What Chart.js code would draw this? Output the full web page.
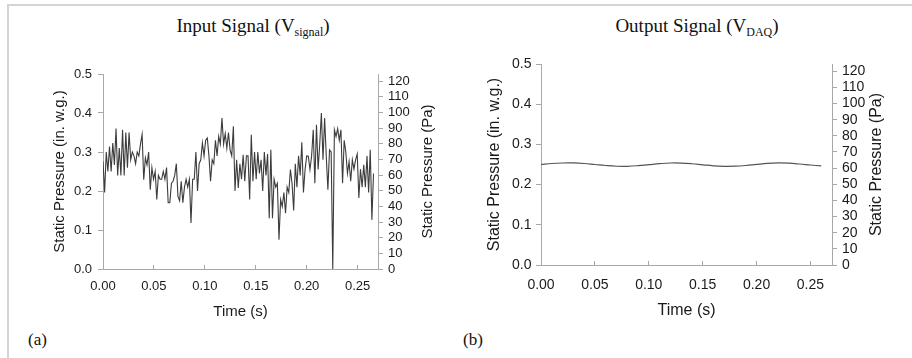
<!DOCTYPE html>
<html>
<head>
<meta charset="utf-8">
<script src="https://cdn.jsdelivr.net/npm/chart.js@4/dist/chart.umd.min.js"></script>
<style>
  html, body { margin: 0; padding: 0; background: #fff; }
  body { width: 912px; height: 358px; position: relative; overflow: hidden; }
  #frame { position: absolute; left: 7px; top: 4px; width: 920px; height: 370px;
           border-top: 2px solid #d4d4d4; border-left: 2px solid #d4d4d4; }
  .title { position: absolute; top: 16px; font-family: "Liberation Serif", serif; font-size: 19px;
           line-height: 19px; color: #111; transform: translateX(-50%); white-space: nowrap; }
  .title sub { font-size: 12px; vertical-align: -4px; line-height: 0; }
  .panel { position: absolute; top: 330px; font-family: "Liberation Serif", serif; font-size: 17px; color: #111; }
  canvas { position: absolute; }
</style>
</head>
<body>
<div id="frame"></div>
<div class="title" style="left:253px">Input Signal (V<sub>signal</sub>)</div>
<div class="title" style="left:697px">Output Signal (V<sub>DAQ</sub>)</div>
<div class="panel" style="left:28px">(a)</div>
<div class="panel" style="left:463px">(b)</div>
<canvas id="chartA" width="397" height="280" style="left:48px;top:50px"></canvas>
<canvas id="chartB" width="417" height="290" style="left:483px;top:40px"></canvas>
<script>
// static pressure in in. w.g.
var inputStep = 0.0016;
var inputPressure = [
  0.276,0.196,0.30,0.25,0.314,0.25,0.323,0.267,0.36,0.24,0.31,0.24,0.357,0.24,0.35,0.26,0.35,0.28,0.30,0.29,
  0.27,0.30,0.29,0.32,0.345,0.229,0.285,0.267,0.30,0.203,0.26,0.23,0.25,0.178,0.24,0.23,0.23,0.25,0.23,0.26,0.17,
  0.17,0.22,0.225,0.24,0.27,0.186,0.175,0.225,0.17,0.21,0.23,0.21,0.23,0.118,0.23,0.23,0.30,0.20,0.27,0.28,
  0.323,0.29,0.33,0.336,0.29,0.225,0.28,0.27,0.33,0.29,0.34,0.32,0.387,0.32,0.347,0.31,0.35,0.305,0.29,0.366,0.20,0.28,
  0.208,0.27,0.23,0.293,0.225,0.29,0.29,0.178,0.344,0.225,0.30,0.23,0.30,0.245,0.28,0.20,0.30,0.24,0.295,0.13,
  0.306,0.13,0.23,0.21,0.22,0.075,0.178,0.16,0.196,0.143,0.21,0.196,0.255,0.22,0.15,0.27,0.21,0.29,0.24,0.325,0.196,0.255,0.29,
  0.289,0.255,0.289,0.357,0.22,0.37,0.255,0.32,0.40,0.28,0.387,0.29,0.203,0.305,0.30,0.0,0.357,0.34,0.36,0.33,
  0.357,0.22,0.33,0.30,0.245,0.275,0.225,0.28,0.256,0.28,0.295,0.182,0.256,0.21,0.267,0.21,0.29,0.196,0.306,0.126,0.245
];

var outputStep = 0.01;
var outputPressure = [
  0.2500,0.2525,0.2537,0.2538,0.2525,0.2500,0.2475,0.2457,0.2455,0.2470,0.2495,0.2520,0.2537,0.2535,
  0.2518,0.2492,0.2467,0.2455,0.2458,0.2475,0.2502,0.2527,0.2538,0.2532,0.2512,0.2487,0.2465
];

var timeMax = 0.27;
var inwgMax = 0.5;
var paMax = 124.5;   // 0.5 in. w.g. in Pa

var axisColor = '#a8a8a8';
var textColor = '#1a1a1a';

var rightTitle = {
  id: 'rightTitle',
  afterDraw: function (chart, args, opts) {
    var ctx = chart.ctx, area = chart.chartArea;
    ctx.save();
    ctx.translate(area.right + opts.offset, (area.top + area.bottom) / 2);
    ctx.rotate(-Math.PI / 2);
    ctx.font = opts.size + 'px "Liberation Sans", Arial, sans-serif';
    ctx.fillStyle = textColor;
    ctx.textAlign = 'center';
    ctx.textBaseline = 'middle';
    ctx.fillText(opts.text, 0, 0);
    ctx.restore();
  }
};

function toPoints(values, step) {
  return values.map(function (v, i) { return { x: i * step, y: v }; });
}

function makeChart(id, points, lineColor, s) {
  var tickFont = { family: '"Liberation Sans", Arial, sans-serif', size: s.tick };
  var titleFont = { family: '"Liberation Sans", Arial, sans-serif', size: s.title };
  return new Chart(document.getElementById(id), {
    type: 'line',
    data: {
      datasets: [{
        data: points,
        borderColor: lineColor,
        borderWidth: s.lineWidth,
        pointRadius: 0,
        tension: s.tension,
        fill: false
      }]
    },
    options: {
      responsive: false,
      animation: false,
      events: [],
      layout: { padding: { top: s.padTop, left: 0, right: 0, bottom: 0 } },
      plugins: {
        legend: { display: false },
        tooltip: { enabled: false },
        rightTitle: { text: 'Static Pressure (Pa)', offset: s.rightTitleOffset, size: s.title }
      },
      scales: {
        x: {
          type: 'linear',
          min: 0,
          max: timeMax,
          afterFit: function (scale) { scale.height = s.xHeight; },
          border: { color: axisColor },
          grid: { drawOnChartArea: false, tickLength: -4, color: axisColor },
          ticks: {
            stepSize: 0.05, includeBounds: false, maxRotation: 0, autoSkip: false,
            padding: s.xPad, font: tickFont, color: textColor,
            callback: function (v) { return v.toFixed(2); }
          },
          title: { display: true, text: 'Time (s)', font: titleFont, color: textColor,
                   padding: { top: 0, bottom: s.xTitlePad } }
        },
        y: {
          position: 'left',
          min: 0,
          max: inwgMax,
          afterFit: function (scale) { scale.width = s.yWidth; },
          border: { color: axisColor },
          grid: { drawOnChartArea: false, tickLength: 5, color: axisColor },
          ticks: {
            stepSize: 0.1, autoSkip: false, padding: s.yPad, font: tickFont, color: textColor,
            callback: function (v) { return v.toFixed(1); }
          },
          title: { display: true, text: 'Static Pressure (in. w.g.)', font: titleFont, color: textColor,
                   padding: { top: s.yTitlePad, bottom: 0 } }
        },
        y1: {
          position: 'right',
          display: true,
          min: 0,
          max: paMax,
          afterFit: function (scale) { scale.width = s.y1Width; },
          border: { color: axisColor },
          grid: { drawOnChartArea: false, tickLength: 5, color: axisColor },
          ticks: {
            stepSize: 10, includeBounds: false, autoSkip: false, padding: 5, font: tickFont, color: textColor,
            callback: function (v) { return Math.round(v); }
          }
        }
      }
    },
    plugins: [rightTitle]
  });
}

makeChart('chartA', toPoints(inputPressure, inputStep), '#3c3c3c', {
  tick: 13, title: 15, lineWidth: 1.1, tension: 0,
  padTop: 24, xHeight: 61, xPad: 13.7, xTitlePad: 9,
  yWidth: 55, yPad: 6, yTitlePad: 3, y1Width: 67, rightTitleOffset: 50
});

makeChart('chartB', toPoints(outputPressure, outputStep), '#555', {
  tick: 14, title: 16, lineWidth: 1.2, tension: 0.4,
  padTop: 24, xHeight: 65, xPad: 15.8, xTitlePad: 9.4,
  yWidth: 58, yPad: 4.5, yTitlePad: 2.4, y1Width: 68, rightTitleOffset: 45
});
</script>
</body>
</html>
